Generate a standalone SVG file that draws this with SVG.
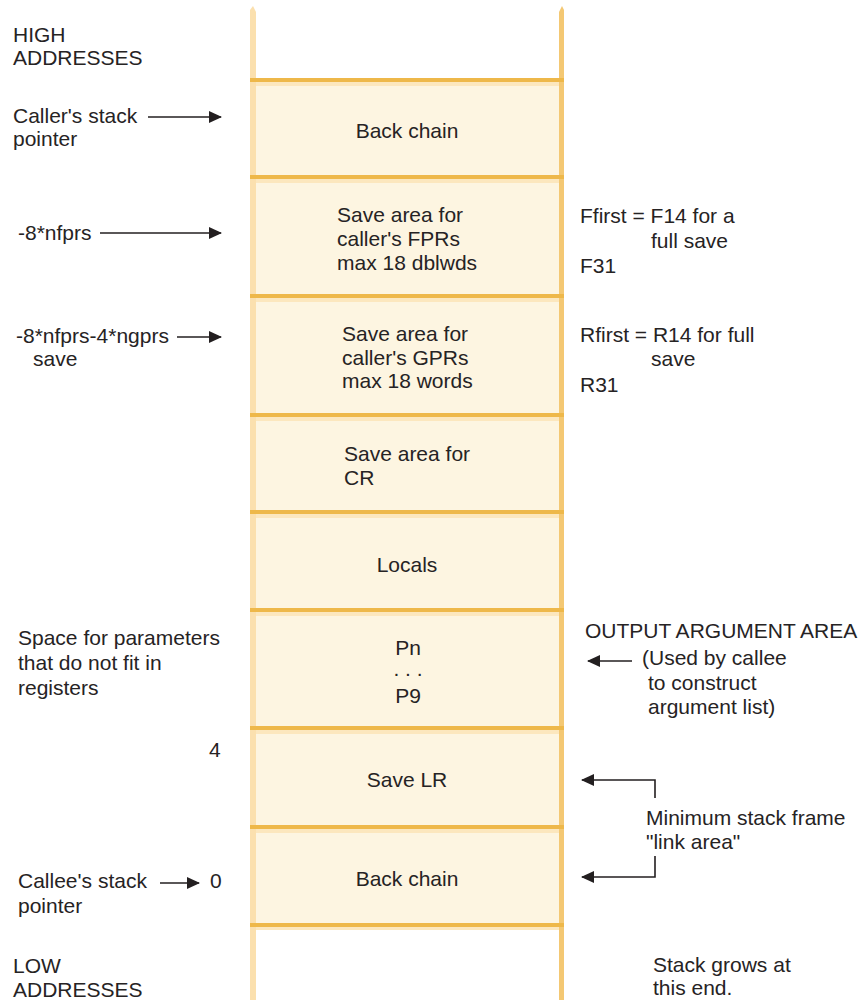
<svg xmlns="http://www.w3.org/2000/svg" width="865" height="1002" viewBox="0 0 865 1002">
<style>
  text { font-family: "Liberation Sans", Arial, sans-serif; font-size: 21px; fill: #262324; }
  .c { text-anchor: middle; }
  .sep { fill: #EEB84A; }
  .hl { fill: #FCE7BE; }
  .slot { fill: #FDF5E1; }
  .conn { fill: none; stroke: #231F20; stroke-width: 1.6; }
</style>
<defs>
  <marker id="ah" markerUnits="userSpaceOnUse" markerWidth="13" markerHeight="12" viewBox="0 0 13 12" refX="12" refY="6" orient="auto">
    <path d="M0,0 L13,6 L0,12 z" fill="#231F20"/>
  </marker>
</defs>
<rect width="865" height="1002" fill="#ffffff"/>

<g id="stack-column">
  <rect class="slot" x="256" y="80" width="303" height="845"/>
  <polygon points="250,10 253,6 256,12 256,1000 250,1000" fill="#FBE0AE"/>
  <polygon points="559,12 562,6 564,10 564,1000 559,1000" fill="#F4C873"/>
</g>

<g id="slot-back-chain-caller">
  <rect class="sep" x="250" y="78" width="314" height="4"/>
  <rect class="hl" x="256" y="82" width="303" height="4"/>
  <text class="c" x="407" y="138">Back chain</text>
</g>
<g id="slot-fpr">
  <rect class="sep" x="250" y="175" width="314" height="4"/>
  <rect class="hl" x="256" y="179" width="303" height="4"/>
  <text x="337" y="222">Save area for</text>
  <text x="337" y="246">caller's FPRs</text>
  <text x="337" y="270">max 18 dblwds</text>
</g>
<g id="slot-gpr">
  <rect class="sep" x="250" y="294" width="314" height="4"/>
  <rect class="hl" x="256" y="298" width="303" height="4"/>
  <text x="342" y="341">Save area for</text>
  <text x="342" y="365">caller's GPRs</text>
  <text x="342" y="388">max 18 words</text>
</g>
<g id="slot-cr">
  <rect class="sep" x="250" y="413" width="314" height="4"/>
  <rect class="hl" x="256" y="417" width="303" height="4"/>
  <text x="344" y="461">Save area for</text>
  <text x="344" y="485">CR</text>
</g>
<g id="slot-locals">
  <rect class="sep" x="250" y="510" width="314" height="4"/>
  <rect class="hl" x="256" y="514" width="303" height="4"/>
  <text class="c" x="407" y="572">Locals</text>
</g>
<g id="slot-params">
  <rect class="sep" x="250" y="608" width="314" height="4"/>
  <rect class="hl" x="256" y="612" width="303" height="4"/>
  <text class="c" x="408" y="655">Pn</text>
  <text class="c" x="408" y="676">. . .</text>
  <text class="c" x="408" y="703">P9</text>
</g>
<g id="slot-save-lr">
  <rect class="sep" x="250" y="726" width="314" height="4"/>
  <rect class="hl" x="256" y="730" width="303" height="4"/>
  <text class="c" x="407" y="787">Save LR</text>
</g>
<g id="slot-back-chain-callee">
  <rect class="sep" x="250" y="825" width="314" height="4"/>
  <rect class="hl" x="256" y="829" width="303" height="4"/>
  <text class="c" x="407" y="886">Back chain</text>
</g>
<g id="slot-bottom">
  <rect class="sep" x="250" y="923" width="314" height="4"/>
  <rect class="hl" x="256" y="927" width="303" height="3"/>
</g>

<g id="label-high">
  <text x="13" y="42">HIGH</text>
  <text x="13" y="65">ADDRESSES</text>
</g>
<g id="label-caller-sp">
  <text x="13" y="123">Caller's stack</text>
  <text x="13" y="146">pointer</text>
</g>
<g id="label-nfprs">
  <text x="18" y="240">-8*nfprs</text>
</g>
<g id="label-ngprs">
  <text x="16" y="343">-8*nfprs-4*ngprs</text>
  <text x="33" y="366">save</text>
</g>
<g id="label-ffirst">
  <text x="580" y="223">Ffirst = F14 for a</text>
  <text x="651" y="248">full save</text>
  <text x="580" y="273">F31</text>
</g>
<g id="label-rfirst">
  <text x="580" y="342">Rfirst = R14 for full</text>
  <text x="651" y="366">save</text>
  <text x="580" y="392">R31</text>
</g>
<g id="label-space-params">
  <text x="18" y="645">Space for parameters</text>
  <text x="18" y="670">that do not fit in</text>
  <text x="18" y="695">registers</text>
</g>
<g id="label-output-arg">
  <text x="585" y="638">OUTPUT ARGUMENT AREA</text>
  <text x="642" y="665">(Used by callee</text>
  <text x="648" y="690">to construct</text>
  <text x="648" y="714">argument list)</text>
</g>
<g id="label-offset-4">
  <text x="209" y="757">4</text>
</g>
<g id="label-link-area">
  <text x="646" y="825">Minimum stack frame</text>
  <text x="646" y="849">"link area"</text>
</g>
<g id="label-callee-sp">
  <text x="18" y="888">Callee's stack</text>
  <text x="18" y="913">pointer</text>
  <text x="210" y="888">0</text>
</g>
<g id="label-low">
  <text x="13" y="973">LOW</text>
  <text x="13" y="997">ADDRESSES</text>
</g>
<g id="label-grows">
  <text x="653" y="972">Stack grows at</text>
  <text x="653" y="995">this end.</text>
</g>

<g id="connectors">
  <path class="conn" d="M148,117 H221" marker-end="url(#ah)"/>
  <path class="conn" d="M100,233 H221" marker-end="url(#ah)"/>
  <path class="conn" d="M177,337 H221" marker-end="url(#ah)"/>
  <path class="conn" d="M160,883 H199" marker-end="url(#ah)"/>
  <path class="conn" d="M632,661 H588" marker-end="url(#ah)"/>
  <path class="conn" d="M655,798 V780 H582" marker-end="url(#ah)"/>
  <path class="conn" d="M655,856 V877 H582" marker-end="url(#ah)"/>
</g>
</svg>
